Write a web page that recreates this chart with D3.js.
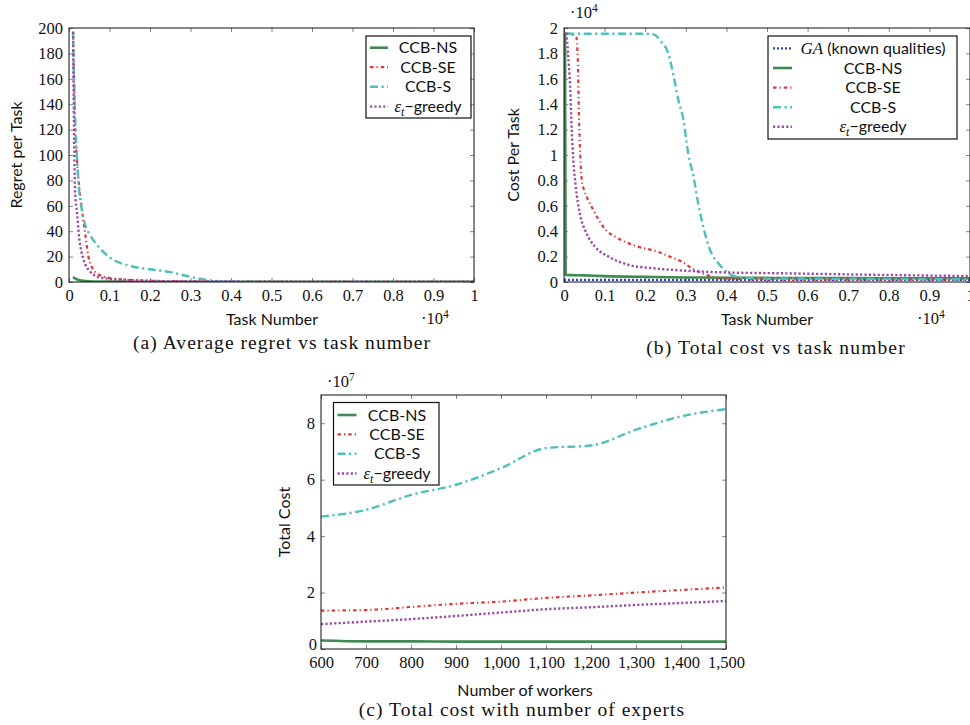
<!DOCTYPE html>
<html><head><meta charset="utf-8">
<script src="https://cdn.jsdelivr.net/npm/d3@7"></script>
<style>body{margin:0;background:#fff}svg{display:block}</style>
</head><body><svg id="chart" width="970" height="725"></svg>
<script>
// ---------- DATA ----------
// (a) Average regret vs task number
const regretTasks = [100,150,200,250,300,400,500,700,1000,1500,2000,2500,3000,3500,4000,6000,8000,10000];
const regretNS  = [4,2.8,2,1.5,1.2,0.8,0.6,0.4,0.3,0.25,0.2,0.2,0.15,0.15,0.1,0.1,0.1,0.1];
const regretSE  = [197,125,95,76,62,38,17,6.5,3.2,1.7,1,0.7,0.5,0.4,0.3,0.2,0.15,0.1];
const regretS   = [197,130,97,72,60,45,38,29,19.5,12.7,10,7.8,4,1.2,0.4,0.2,0.15,0.1];
const regretEps = [197,72,54,35,25,14,9,4.2,2.5,1.4,0.9,0.6,0.5,0.4,0.35,0.25,0.2,0.15];

// (b) Cost per task vs task number (each series has its own task grid)
const costGAx  = [0,10000];
const costGAy  = [170,170];
const costNSx  = [10,25,40,500,1000,2000,3000,4000,6000,8000,10000];
const costNSy  = [19600,19600,560,520,460,400,360,340,310,300,290];
const costSEx  = [60,300,340,370,400,440,500,560,700,800,1000,1300,1800,2300,2600,2900,3150,3400,3700,4000,5000,6000,8000,10000];
const costSEy  = [19600,19300,17500,13000,10000,8000,7200,6700,5800,5200,4200,3500,2800,2400,2000,1600,1080,680,370,250,200,190,180,180];
const costSx   = [60,500,1000,1500,2000,2200,2400,2570,2700,2820,2940,3060,3190,3310,3430,3600,3800,3970,4200,4600,5000,6000,7000,8000,9000,10000];
const costSy   = [19550,19550,19550,19550,19550,19500,18900,18000,16200,14300,12800,10100,8300,6100,4350,2500,1470,900,450,300,260,250,240,230,220,220];
const costEpsx = [60,100,150,190,230,290,390,560,760,1100,1600,2200,3000,3900,5500,8000,10000];
const costEpsy = [19600,18000,15400,12000,9600,7500,5400,3800,2800,2000,1340,1080,890,760,680,550,470];

// (c) Total cost vs number of workers
const workers   = [600,700,800,900,1000,1100,1200,1300,1400,1500];
const totalNS   = [0.30,0.27,0.27,0.26,0.26,0.26,0.26,0.26,0.26,0.26].map(v=>v*1e7);
const totalSE   = [1.36,1.38,1.49,1.60,1.68,1.81,1.90,2.00,2.09,2.18].map(v=>v*1e7);
const totalS    = [4.69,4.93,5.46,5.82,6.41,7.12,7.21,7.77,8.24,8.50].map(v=>v*1e7);
const totalEps  = [0.88,0.97,1.06,1.17,1.29,1.41,1.48,1.56,1.63,1.70].map(v=>v*1e7);

const xTicks10k = [0,1000,2000,3000,4000,5000,6000,7000,8000,9000,10000];
const yTicksRegret = [0,20,40,60,80,100,120,140,160,180,200];
const yTicksCost = [0,2000,4000,6000,8000,10000,12000,14000,16000,18000,20000];
const yTicksTotal = [0,2e7,4e7,6e7,8e7];

// ---------- STYLES ----------
const ST = {
  GA:  {color:"#2b45c0", width:2.2, dash:"2,2"},
  NS:  {color:"#3f8a4e", width:2.6, dash:null},
  SE:  {color:"#db3a3a", width:2.2, dash:"3.5,3,1.2,3"},
  S:   {color:"#4fbfbf", width:2.4, dash:"8,3.5,2.2,3.5"},
  Eps: {color:"#9a4aa6", width:2.4, dash:"2.2,2.2"}
};
const SERIF = "'Liberation Serif','Times New Roman',serif";
const SANS = "Lato,'Open Sans',sans-serif";

const svg = d3.select("#chart");
const mult = d => String(+(d/1e4).toFixed(1));

function panel(cfg){
  const g = svg.append("g");
  const x = d3.scaleLinear().domain(cfg.xDom).range([cfg.l, cfg.r]);
  const y = d3.scaleLinear().domain(cfg.yDom).range([cfg.b, cfg.t]);
  const clipId = "clip"+cfg.id;
  svg.append("clipPath").attr("id",clipId).append("rect")
    .attr("x",cfg.l).attr("y",cfg.t).attr("width",cfg.r-cfg.l).attr("height",cfg.b-cfg.t);

  const styleAxis = (sel)=>{
    sel.attr("font-family",SERIF).attr("font-size",16.5);
    sel.select(".domain").remove();
    sel.selectAll(".tick line").attr("stroke","#777").attr("stroke-width",0.9);
    sel.selectAll("text").attr("font-family",SERIF).attr("font-size",16.5).attr("fill","#111");
  };
  g.append("g").attr("transform",`translate(0,${cfg.b})`)
    .call(d3.axisBottom(x).tickValues(cfg.xTicks).tickFormat(cfg.xFmt).tickSizeInner(-4).tickSizeOuter(0).tickPadding(7))
    .call(styleAxis);
  g.append("g").attr("transform",`translate(0,${cfg.t})`)
    .call(d3.axisTop(x).tickValues(cfg.xTicks).tickFormat("").tickSizeInner(-4).tickSizeOuter(0))
    .call(styleAxis);
  const yAx = g.append("g").attr("transform",`translate(${cfg.l},0)`)
    .call(d3.axisLeft(y).tickValues(cfg.yTicks).tickFormat(cfg.yFmt).tickSizeInner(-4).tickSizeOuter(0).tickPadding(6))
    .call(styleAxis);
  if(cfg.zeroShift) yAx.selectAll(".tick text").filter(d=>d===0).attr("dy","0.32em").attr("y",-cfg.zeroShift).attr("x",-4);
  g.append("g").attr("transform",`translate(${cfg.r},0)`)
    .call(d3.axisRight(y).tickValues(cfg.yTicks).tickFormat("").tickSizeInner(-4).tickSizeOuter(0))
    .call(styleAxis);

  const lines = g.append("g").attr("clip-path",`url(#${clipId})`);
  cfg.series.forEach(s=>{
    const st = ST[s.key];
    const pts = s.x.map((xv,i)=>[xv,s.y[i]]);
    lines.append("path").datum(pts)
      .attr("d", d3.line().x(d=>x(d[0])).y(d=>y(d[1])).curve(d3.curveMonotoneX))
      .attr("fill","none").attr("stroke",st.color).attr("stroke-width",st.width)
      .attr("stroke-dasharray",st.dash).attr("stroke-linejoin","round");
  });

  g.append("rect").attr("x",cfg.l).attr("y",cfg.t).attr("width",cfg.r-cfg.l).attr("height",cfg.b-cfg.t)
    .attr("fill","none").attr("stroke","#111").attr("stroke-width",1);

  // legend
  const L = cfg.legend;
  g.append("rect").attr("x",L.x0).attr("y",L.y0).attr("width",L.x1-L.x0).attr("height",L.y1-L.y0)
    .attr("fill","#fff").attr("stroke","#111").attr("stroke-width",1.2);
  L.items.forEach((it,i)=>{
    const cy = L.rows[i];
    const st = ST[it.key];
    g.append("line").attr("x1",L.s0).attr("x2",L.s1).attr("y1",cy).attr("y2",cy)
      .attr("stroke",st.color).attr("stroke-width",st.width).attr("stroke-dasharray",st.dash);
    const t = g.append("text").attr("x",L.tc).attr("y",cy+5.6).attr("text-anchor","middle")
      .attr("font-family",SANS).attr("font-size",16).attr("fill","#111");
    if(it.key==="Eps"){
      t.append("tspan").attr("font-family",SERIF).attr("font-style","italic").attr("font-size",17).text("ε");
      t.append("tspan").attr("font-family",SERIF).attr("font-style","italic").attr("font-size",12).attr("dy",4).text("t");
      t.append("tspan").attr("dy",-4).text("−greedy");
    } else if(it.key==="GA"){
      t.append("tspan").attr("font-family",SERIF).attr("font-style","italic").attr("font-size",17).text("GA");
      t.append("tspan").text(" (known qualities)");
    } else t.text(it.label);
  });

  // axis labels
  g.append("text").attr("x",cfg.xl[0]).attr("y",cfg.xl[1]+5.6).attr("text-anchor","middle")
    .attr("font-family",SANS).attr("font-size",16).attr("fill","#111").text(cfg.xLabel);
  g.append("text").attr("transform",`translate(${cfg.yl[0]+5.6},${cfg.yl[1]}) rotate(-90)`).attr("text-anchor","middle")
    .attr("font-family",SANS).attr("font-size",16).attr("fill","#111").text(cfg.yLabel);
  (cfg.mults||[]).forEach(m=>{
    const t = g.append("text").attr("x",m[0]).attr("y",m[1]+5).attr("font-family",SERIF)
      .attr("font-size",16.5).attr("fill","#111");
    t.append("tspan").text("·10");
    t.append("tspan").attr("font-size",11.5).attr("dy",-6).text(m[2]);
  });
  g.append("text").attr("x",cfg.cap[0]).attr("y",cfg.cap[1]).attr("text-anchor","middle")
    .attr("font-family",SERIF).attr("font-size",19.5).attr("letter-spacing",cfg.cap[3]).attr("fill","#111").text(cfg.cap[2]);
}

const legend4 = [{key:"NS",label:"CCB-NS"},{key:"SE",label:"CCB-SE"},{key:"S",label:"CCB-S"},{key:"Eps",label:""}];

panel({
  id:"a", l:69, r:474, t:28, b:282,
  xDom:[0,10000], yDom:[0,200], xTicks:xTicks10k, yTicks:yTicksRegret, xFmt:mult, yFmt:d3.format("d"),
  series:[
    {key:"NS", x:regretTasks, y:regretNS},
    {key:"SE", x:regretTasks, y:regretSE},
    {key:"S", x:regretTasks, y:regretS},
    {key:"Eps", x:regretTasks, y:regretEps}],
  legend:{x0:366, x1:471, y0:36, y1:118, s0:370, s1:388, tc:428, rows:[47.7,67.2,86.8,106.6], items:legend4},
  xLabel:"Task Number", xl:[272,319], yLabel:"Regret per Task", yl:[16,155],
  mults:[[421,319,"4"]], cap:[282,349,"(a) Average regret vs task number",1.05]
});

panel({
  id:"b", l:564, r:970, t:28, b:282,
  xDom:[0,10000], yDom:[0,20000], xTicks:xTicks10k, yTicks:yTicksCost, xFmt:mult, yFmt:mult,
  series:[
    {key:"GA", x:costGAx, y:costGAy},
    {key:"NS", x:costNSx, y:costNSy},
    {key:"SE", x:costSEx, y:costSEy},
    {key:"S", x:costSx, y:costSy},
    {key:"Eps", x:costEpsx, y:costEpsy}],
  legend:{x0:768, x1:957, y0:36, y1:139, s0:773, s1:792, tc:873, rows:[48.3,68,87.7,107.2,126.8],
    items:[{key:"GA",label:""},...legend4]},
  xLabel:"Task Number", xl:[767,319], yLabel:"Cost Per Task", yl:[513,155],
  mults:[[917,319,"4"],[570,13,"4"]], cap:[776,354,"(b) Total cost vs task number",1.15]
});

panel({
  id:"c", l:321, r:726, t:395, b:649,
  xDom:[600,1500], yDom:[0,9e7], xTicks:workers, yTicks:yTicksTotal, xFmt:d3.format(","), yFmt:d=>String(d/1e7),
  zeroShift:5,
  series:[
    {key:"NS", x:workers, y:totalNS},
    {key:"SE", x:workers, y:totalSE},
    {key:"S", x:workers, y:totalS},
    {key:"Eps", x:workers, y:totalEps}],
  legend:{x0:333.5, x1:439, y0:402.5, y1:485, s0:337.5, s1:356.5, tc:397, rows:[415,434.3,453.8,473.5], items:legend4},
  xLabel:"Number of workers", xl:[525,690], yLabel:"Total Cost", yl:[284,522],
  mults:[[327,382,"7"]], cap:[522,716,"(c) Total cost with number of experts",1.02]
});
</script></body></html>
